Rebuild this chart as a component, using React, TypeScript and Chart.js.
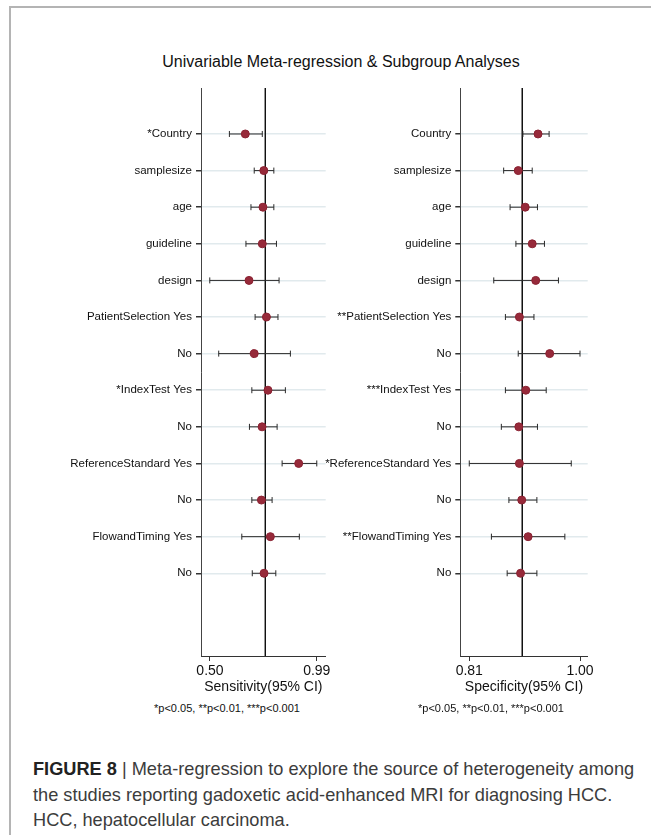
import React, { useEffect, useRef } from "react";
import { Chart, registerables } from "chart.js";

Chart.register(...registerables);

const FONT = "'Liberation Sans', Arial, Helvetica, sans-serif";

// ---------- data ----------
const sensLabels = [
  "*Country", "samplesize", "age", "guideline", "design",
  "PatientSelection Yes", "No", "*IndexTest Yes", "No",
  "ReferenceStandard Yes", "No", "FlowandTiming Yes", "No",
];
const specLabels = [
  "Country", "samplesize", "age", "guideline", "design",
  "**PatientSelection Yes", "No", "***IndexTest Yes", "No",
  "*ReferenceStandard Yes", "No", "**FlowandTiming Yes", "No",
];

const sensEst = [0.662, 0.747, 0.743, 0.740, 0.679, 0.759, 0.703, 0.766, 0.739, 0.907, 0.736, 0.777, 0.748];
const sensLo = [0.589, 0.703, 0.688, 0.665, 0.499, 0.707, 0.540, 0.692, 0.681, 0.831, 0.692, 0.646, 0.694];
const sensHi = [0.740, 0.793, 0.793, 0.805, 0.817, 0.812, 0.869, 0.846, 0.808, 0.990, 0.785, 0.910, 0.802];
const sensPooled = 0.754;
const sensTicks = [0.5, 0.99];

const specEst = [0.928, 0.894, 0.906, 0.918, 0.924, 0.896, 0.948, 0.907, 0.895, 0.896, 0.900, 0.911, 0.898];
const specLo = [0.902, 0.869, 0.880, 0.890, 0.852, 0.872, 0.894, 0.872, 0.865, 0.810, 0.878, 0.848, 0.875];
const specHi = [0.947, 0.918, 0.927, 0.939, 0.963, 0.921, 1.000, 0.942, 0.927, 0.985, 0.926, 0.974, 0.926];
const specPooled = 0.901;
const specTicks = [0.81, 1.0];

const Y_MIN = -0.256;
const Y_MAX = 15.26;

type PanelProps = {
  left: number;
  top: number;
  width: number;
  height: number;
  yWidth: number;
  padRight: number;
  padTop: number;
  xMin: number;
  xMax: number;
  ticks: number[];
  labels: string[];
  est: number[];
  lo: number[];
  hi: number[];
  pooled: number;
  title: string;
};

function Panel(p: PanelProps) {
  const ref = useRef<HTMLCanvasElement | null>(null);
  useEffect(() => {
    if (!ref.current) return;
    const rows = p.labels.map((_, i) => i + 1);
    const datasets: any[] = [
      {
        data: p.est.map((v, i) => ({ x: v, y: rows[i] })),
        pointRadius: 4,
        pointBackgroundColor: "#972a3a",
        pointBorderColor: "#8a2232",
        pointBorderWidth: 1,
        showLine: false,
        order: 0,
      },
      ...p.lo.map((l, i) => ({
        data: [
          { x: l, y: rows[i] },
          { x: p.hi[i], y: rows[i] },
        ],
        showLine: true,
        borderColor: "#2a2a2a",
        borderWidth: 1,
        pointStyle: "line",
        pointRotation: 90,
        pointRadius: 3,
        pointBorderColor: "#2a2a2a",
        pointBorderWidth: 1,
        order: 1,
      })),
      {
        data: [
          { x: p.pooled, y: Y_MIN },
          { x: p.pooled, y: Y_MAX },
        ],
        showLine: true,
        borderColor: "#111111",
        borderWidth: 1,
        pointRadius: 0,
        order: 2,
      },
    ];
    const chart = new Chart(ref.current, {
      type: "scatter",
      data: { datasets },
      options: {
        animation: false,
        responsive: false,
        events: [],
        layout: { padding: { left: 0, right: p.padRight, top: p.padTop, bottom: 0 } },
        plugins: { legend: { display: false }, tooltip: { enabled: false } },
        scales: {
          x: {
            type: "linear",
            min: p.xMin,
            max: p.xMax,
            afterBuildTicks: (s: any) => {
              s.ticks = p.ticks.map((v) => ({ value: v }));
            },
            afterFit: (s: any) => {
              s.height = 40;
            },
            ticks: {
              callback: (v: any) => Number(v).toFixed(2),
              font: { size: 14, family: FONT },
              color: "#111",
              padding: 2,
              maxRotation: 0,
              autoSkip: false,
            },
            grid: { drawOnChartArea: false, drawTicks: true, tickLength: 5, tickColor: "#333" },
            border: { color: "#333", width: 1 },
            title: {
              display: true,
              text: p.title,
              font: { size: 14, family: FONT },
              color: "#111",
              padding: 0,
            },
          },
          y: {
            type: "linear",
            reverse: true,
            min: Y_MIN,
            max: Y_MAX,
            afterBuildTicks: (s: any) => {
              s.ticks = rows.map((v) => ({ value: v }));
            },
            afterFit: (s: any) => {
              s.width = p.yWidth;
            },
            ticks: {
              callback: (v: any) => p.labels[Math.round(Number(v)) - 1] ?? "",
              font: { size: 11.5, family: FONT },
              color: "#111",
              padding: 4,
              autoSkip: false,
            },
            grid: { color: "#e1eaed", lineWidth: 1.5, drawTicks: true, tickLength: 5, tickColor: "#333" },
            border: { color: "#444", width: 1 },
          },
        },
      } as any,
    });
    return () => chart.destroy();
  }, []);
  return (
    <canvas
      ref={ref}
      width={p.width}
      height={p.height}
      style={{ position: "absolute", left: p.left, top: p.top, width: p.width, height: p.height }}
    />
  );
}

export default function App() {
  return (
    <div
      style={{
        position: "absolute",
        left: 0,
        top: 0,
        width: 651,
        height: 835,
        background: "#fff",
        overflow: "hidden",
        fontFamily: FONT,
      }}
    >
      <div
        style={{
          position: "absolute",
          left: 9,
          top: 6,
          width: 660,
          height: 840,
          borderTop: "2px solid #b4b4b4",
          borderLeft: "2px solid #b4b4b4",
        }}
      />
      <div
        style={{
          position: "absolute",
          left: 141,
          top: 53,
          width: 400,
          textAlign: "center",
          fontSize: 16,
          lineHeight: "18px",
          color: "#111",
          whiteSpace: "nowrap",
        }}
      >
        Univariable Meta-regression &amp; Subgroup Analyses
      </div>
      <Panel
        left={0}
        top={74}
        width={340}
        height={622}
        yWidth={201}
        padRight={14.3}
        padTop={14}
        xMin={0.4587}
        xMax={1.031}
        ticks={sensTicks}
        labels={sensLabels}
        est={sensEst}
        lo={sensLo}
        hi={sensHi}
        pooled={sensPooled}
        title="Sensitivity(95% CI)"
      />
      <Panel
        left={310}
        top={74}
        width={341}
        height={622}
        yWidth={150.3}
        padRight={63.3}
        padTop={14}
        xMin={0.7946}
        xMax={1.0132}
        ticks={specTicks}
        labels={specLabels}
        est={specEst}
        lo={specLo}
        hi={specHi}
        pooled={specPooled}
        title="Specificity(95% CI)"
      />
      <div
        style={{
          position: "absolute",
          left: 127,
          top: 701,
          width: 200,
          textAlign: "center",
          fontSize: 11,
          lineHeight: "14px",
          color: "#111",
          whiteSpace: "nowrap",
        }}
      >
        *p&lt;0.05, **p&lt;0.01, ***p&lt;0.001
      </div>
      <div
        style={{
          position: "absolute",
          left: 391,
          top: 701,
          width: 200,
          textAlign: "center",
          fontSize: 11,
          lineHeight: "14px",
          color: "#111",
          whiteSpace: "nowrap",
        }}
      >
        *p&lt;0.05, **p&lt;0.01, ***p&lt;0.001
      </div>
      <div
        style={{
          position: "absolute",
          left: 33,
          top: 757,
          width: 620,
          fontSize: 18.2,
          lineHeight: "25.5px",
          color: "#3c3c3c",
          whiteSpace: "nowrap",
        }}
      >
        <div>
          <b style={{ color: "#222" }}>FIGURE 8</b> | Meta-regression to explore the source of heterogeneity among
        </div>
        <div>the studies reporting gadoxetic acid-enhanced MRI for diagnosing HCC.</div>
        <div>HCC, hepatocellular carcinoma.</div>
      </div>
    </div>
  );
}
